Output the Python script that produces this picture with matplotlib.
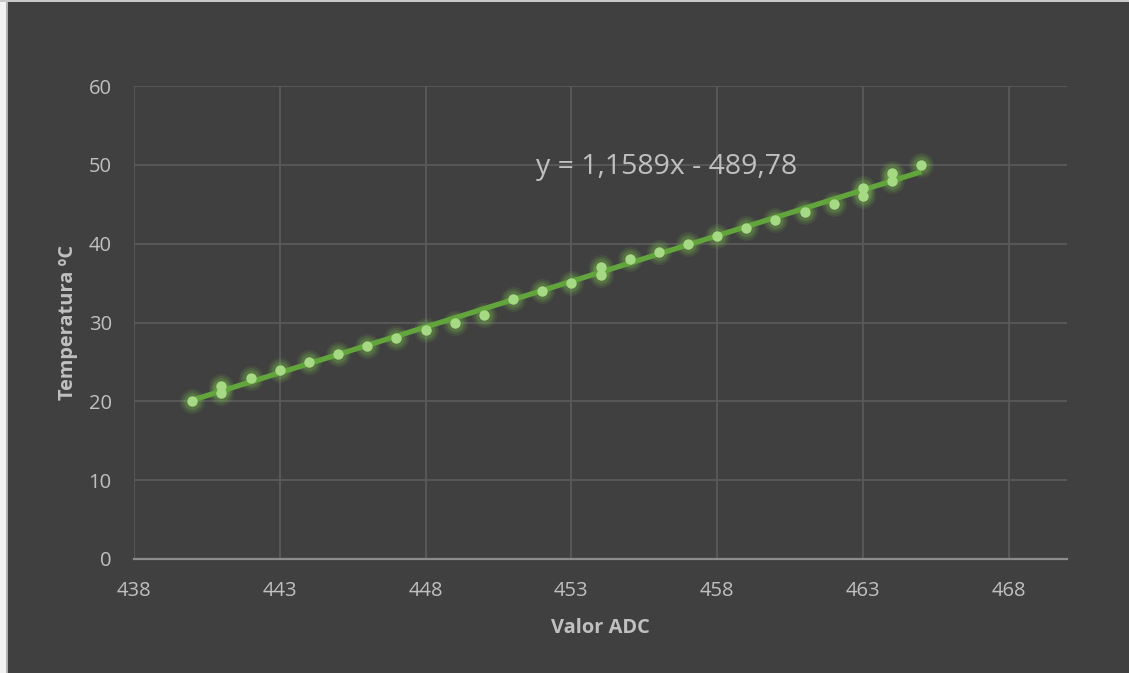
import numpy as np
import matplotlib
matplotlib.use("Agg")
import matplotlib.pyplot as plt
from matplotlib.patches import Rectangle

adc = [440, 441, 441, 442, 443, 444, 445, 446, 447, 448, 449, 450, 451, 452, 453,
       454, 454, 455, 456, 457, 458, 459, 460, 461, 462, 463, 463, 464, 464, 465]
temp = [20, 22, 21, 23, 24, 25, 26, 27, 28, 29, 30, 31, 33, 34, 35,
        37, 36, 38, 39, 40, 41, 42, 43, 44, 45, 47, 46, 49, 48, 50]
x_ticks = [438, 443, 448, 453, 458, 463, 468]
y_ticks = [0, 10, 20, 30, 40, 50, 60]
equation = "y = 1,1589x - 489,78"
x_label = "Valor ADC"
y_label = "Temperatura ºC"

plt.rcParams['font.family'] = ['Open Sans', 'DejaVu Sans']
bg = '#404040'
txt = '#c0c0c0'

fig = plt.figure(figsize=(11.29, 6.73), dpi=100, facecolor=bg)
# light left/top border
fig.patches.append(Rectangle((0, 0), 7/1129, 1, transform=fig.transFigure,
                             facecolor='#f2f2f2', edgecolor='none', zorder=0))
fig.patches.append(Rectangle((6/1129, 0), 2/1129, 1, transform=fig.transFigure,
                             facecolor='#b0b0b0', edgecolor='none', zorder=0))
fig.patches.append(Rectangle((0, 1 - 2/673), 1, 2/673, transform=fig.transFigure,
                             facecolor='#c8c8c8', edgecolor='none', zorder=0))

ax = fig.add_axes([134/1129, (673-559)/673, (1067-134)/1129, (559-86)/673])
ax.set_facecolor(bg)
ax.set_xlim(438, 470)
ax.set_ylim(0, 60)
ax.set_xticks(x_ticks)
ax.set_yticks(y_ticks)
ax.grid(True, color='#5a5a5a', linewidth=1.3)
ax.set_axisbelow(True)
for s in ['top', 'right', 'left']:
    ax.spines[s].set_visible(False)
ax.spines['bottom'].set_color('#8c8c8c')
ax.spines['bottom'].set_linewidth(1.6)
ax.tick_params(length=0, colors=txt, labelsize=14.5)
ax.tick_params(axis='x', pad=16)
ax.tick_params(axis='y', pad=16)

x = np.array(adc, dtype=float)
y = np.array(temp, dtype=float)
# glow
for ms, a in [(18, 0.10), (15, 0.14), (12, 0.22)]:
    ax.plot(x, y, 'o', color='#7dc24f', markersize=ms, alpha=a,
            markeredgewidth=0, zorder=3)
ax.plot(x, y, 'o', color='#a6d983', markersize=7.5, markeredgewidth=0, zorder=5)

m, b = np.polyfit(x, y, 1)
xl = np.array([x.min(), x.max()])
ax.plot(xl, m * xl + b, color='#62a53d', linewidth=3.8, solid_capstyle='butt', zorder=4)

ax.text(451.8, 49.7, equation, color=txt, fontsize=20.5, ha='left', va='center', zorder=6)

ax.set_xlabel(x_label, color=txt, fontsize=14.4, fontweight='bold', labelpad=12)
ax.set_ylabel(y_label, color=txt, fontsize=14.4, fontweight='bold', labelpad=8)

fig.savefig('out.png', dpi=100, facecolor=bg)
